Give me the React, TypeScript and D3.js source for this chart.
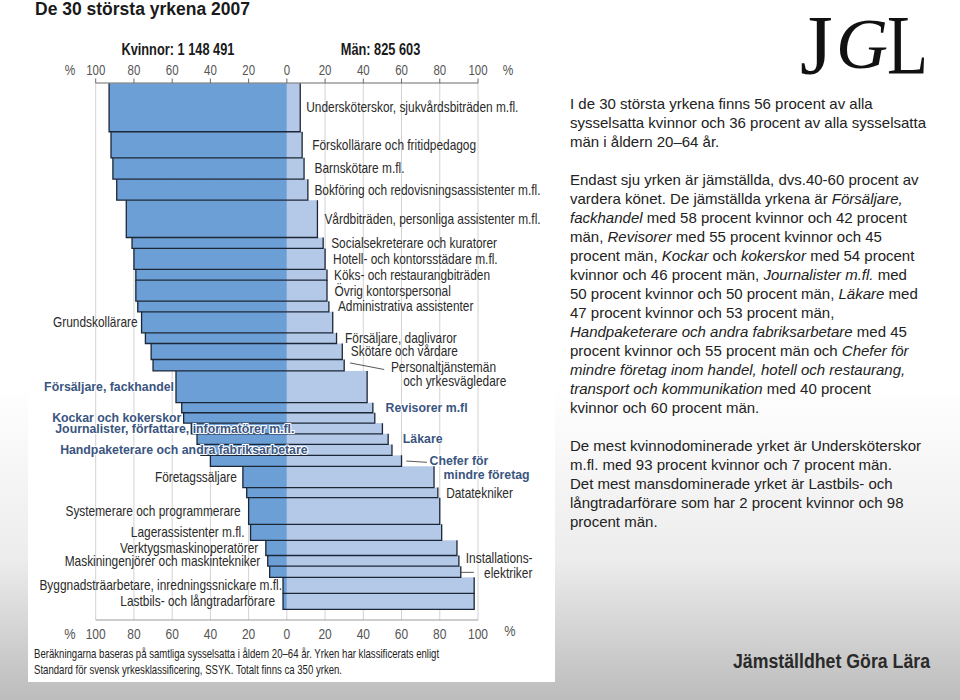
import React from "react";
import * as d3 from "d3";

// ---------- DATA ----------
const occupations = [
  "Undersköterskor, sjukvårdsbiträden m.fl.",
  "Förskollärare och fritidpedagog",
  "Barnskötare m.fl.",
  "Bokföring och redovisningsassistenter m.fl.",
  "Vårdbiträden, personliga assistenter m.fl.",
  "Socialsekreterare och kuratorer",
  "Hotell- och kontorsstädare m.fl.",
  "Köks- och restaurangbiträden",
  "Övrig kontorspersonal",
  "Administrativa assistenter",
  "Grundskollärare",
  "Försäljare, daglivaror",
  "Skötare och vårdare",
  "Personaltjänstemän och yrkesvägledare",
  "Försäljare, fackhandel",
  "Revisorer m.fl",
  "Kockar och kokerskor",
  "Journalister, författare, informatörer m.fl.",
  "Läkare",
  "Handpaketerare och andra fabriksarbetare",
  "Chefer för mindre företag",
  "Företagssäljare",
  "Datatekniker",
  "Systemerare och programmerare",
  "Lagerassistenter m.fl.",
  "Verktygsmaskinoperatörer",
  "Maskiningenjörer och maskintekniker",
  "Installationselektriker",
  "Byggnadsträarbetare, inredningssnickare m.fl.",
  "Lastbils- och långtradarförare",
];
// share of women (%); men = 100 - women
const womenPct = [93, 92, 91, 89, 84, 81, 80, 79, 79, 78, 76, 74, 71, 70, 58, 55, 54, 50, 47, 45, 40, 23, 21, 20, 19, 11, 10, 9, 2, 2];
// number employed (thousands)
const employedK = [182, 98, 80, 79, 140, 41, 79, 40, 79, 40, 79, 40, 60, 43, 119, 38, 39, 40, 40, 41, 41, 80, 38, 100, 60, 57, 40, 42, 60, 60];
const tickValues = [-100, -80, -60, -40, -20, 0, 20, 40, 60, 80, 100];
const totalWomen = "Kvinnor: 1 148 491";
const totalMen = "Män: 825 603";

// ---------- LABEL LAYOUT (annotation placement) ----------
type Line = { t: string; dx: number; dy: number };
type LabelCfg = {
  side: "L" | "R";
  dx: number;
  bold?: boolean;
  anchor?: "start" | "end";
  lines?: Line[];
  leader?: [number, number, number, number];
};
const labelLayout: LabelCfg[] = [
  { side: "R", dx: 6 },
  { side: "R", dx: 10 },
  { side: "R", dx: 10.5 },
  { side: "R", dx: 6.5 },
  { side: "R", dx: 7 },
  { side: "R", dx: 8 },
  { side: "R", dx: 8 },
  { side: "R", dx: 7 },
  { side: "R", dx: 7.5 },
  { side: "R", dx: 9 },
  { side: "L", dx: 4 },
  { side: "R", dx: 8.5 },
  { side: "R", dx: 8.5 },
  { side: "R", dx: 0, lines: [{ t: "Personaltjänstemän", dx: 46.7, dy: 1.7 }, { t: "och yrkesvägledare", dx: 59, dy: 15.7 }], leader: [5.7, -2.3, 40, 4.3] },
  { side: "L", dx: 2, bold: true },
  { side: "R", dx: 12.7, bold: true },
  { side: "L", dx: 2.3, bold: true },
  { side: "L", dx: 136, bold: true, anchor: "start" },
  { side: "R", dx: 14.7, bold: true },
  { side: "L", dx: 140.7, bold: true, anchor: "start" },
  { side: "R", dx: 0, bold: true, lines: [{ t: "Chefer för", dx: 28, dy: 0.2 }, { t: "mindre företag", dx: 42, dy: 13.8 }], leader: [4.7, 0.2, 25.4, 1.5] },
  { side: "L", dx: 6 },
  { side: "R", dx: 8.3 },
  { side: "L", dx: 8 },
  { side: "L", dx: 6 },
  { side: "L", dx: 7.6 },
  { side: "L", dx: 7.4 },
  { side: "R", dx: 0, lines: [{ t: "Installations-", dx: 5, dy: -13.4 }, { t: "elektriker", dx: 23.3, dy: 1.6 }], leader: [-1, 0.6, 13, 0.6] },
  { side: "L", dx: 1 },
  { side: "L", dx: 8 },
];

// ---------- RIGHT TEXT ----------
type Seg = [string, boolean];
const bodyLines: Seg[][] = [
  [["I de 30 största yrkena finns 56 procent av alla", false]],
  [["sysselsatta kvinnor och 36 procent av alla sysselsatta", false]],
  [["män i åldern 20–64 år.", false]],
  [],
  [["Endast sju yrken är jämställda, dvs.40-60 procent av", false]],
  [["vardera könet. De jämställda yrkena är ", false], ["Försäljare,", true]],
  [["fackhandel", true], [" med 58 procent kvinnor och 42 procent", false]],
  [["män, ", false], ["Revisorer", true], [" med 55 procent kvinnor och 45", false]],
  [["procent män, ", false], ["Kockar", true], [" och ", false], ["kokerskor", true], [" med 54 procent", false]],
  [["kvinnor och 46 procent män, ", false], ["Journalister m.fl.", true], [" med", false]],
  [["50 procent kvinnor och 50 procent män, ", false], ["Läkare", true], [" med", false]],
  [["47 procent kvinnor och 53 procent män,", false]],
  [["Handpaketerare och andra fabriksarbetare", true], [" med 45", false]],
  [["procent kvinnor och 55 procent män och ", false], ["Chefer för", true]],
  [["mindre företag inom handel, hotell och restaurang,", true]],
  [["transport och kommunikation", true], [" med 40 procent", false]],
  [["kvinnor och 60 procent män.", false]],
  [],
  [["De mest kvinnodominerade yrket är Undersköterskor", false]],
  [["m.fl. med 93 procent kvinnor och 7 procent män.", false]],
  [["Det mest mansdominerade yrket är Lastbils- och", false]],
  [["långtradarförare som har 2 procent kvinnor och 98", false]],
  [["procent män.", false]],
];

const FONT = "'Liberation Sans', Arial, Helvetica, sans-serif";
const SERIF = "'Liberation Serif', 'Times New Roman', serif";

function T(props: any) {
  const { x, y, sx = 1, children, ...rest } = props;
  return (
    <text transform={`translate(${x},${y}) scale(${sx},1)`} fontFamily={FONT} {...rest}>
      {children}
    </text>
  );
}

export default function App() {
  const W = 960, H = 700;
  const xs = d3.scaleLinear().domain([-100, 100]).range([95.7, 478]);
  const cum = Array.from(d3.cumsum(employedK));
  const total = cum[cum.length - 1];
  const ys = d3.scaleLinear().domain([0, total]).range([83.3, 609.3]);
  const axisTop = 83;
  const axisBottom = 620;

  const rows = occupations.map((name, i) => {
    const w = womenPct[i];
    const y0 = ys(i === 0 ? 0 : cum[i - 1]);
    const y1 = ys(cum[i]);
    return { name, y0, y1, yc: (y0 + y1) / 2, xl: xs(-w), x0: xs(0), xr: xs(100 - w), cfg: labelLayout[i] };
  });

  const WOMEN = "#6c9fd6";
  const MEN = "#b4c8e8";
  const OUT = "#1b2636";
  const BOLDC = "#3a5580";
  const LABC = "#2a2a2a";

  return (
    <svg width={W} height={H} style={{ position: "absolute", left: 0, top: 0 }}>
      <defs>
        <linearGradient id="bg" x1="0" y1="0" x2="0" y2="1">
          <stop offset="0" stopColor="#ffffff" />
          <stop offset="0.55" stopColor="#ffffff" />
          <stop offset="0.8" stopColor="#ececec" />
          <stop offset="1" stopColor="#bcbcbc" />
        </linearGradient>
      </defs>
      <rect x={0} y={0} width={W} height={H} fill="url(#bg)" />
      <rect x={28} y={0} width={527} height={682} fill="#ffffff" />

      {/* Title */}
      <text x={35} y={15} fontFamily={FONT} fontWeight="bold" fontSize={17.5} fill="#1a1a1a">
        De 30 största yrkena 2007
      </text>

      {/* Headers */}
      <T x={xs(-57)} y={54.5} sx={0.8} fontSize={16} fontWeight="bold" textAnchor="middle" fill="#1a1a1a">{totalWomen}</T>
      <T x={xs(49)} y={54.5} sx={0.8} fontSize={16} fontWeight="bold" textAnchor="middle" fill="#1a1a1a">{totalMen}</T>

      {/* Gridlines */}
      {tickValues.map((t) => (
        <line key={"g" + t} x1={xs(t)} x2={xs(t)} y1={axisTop} y2={axisBottom} stroke="#d2d2d2" strokeWidth={1} />
      ))}

      {/* Bars */}
      {rows.map((r, i) => (
        <g key={"b" + i}>
          <rect x={r.xl} y={r.y0} width={r.x0 - r.xl} height={r.y1 - r.y0} fill={WOMEN} />
          <rect x={r.x0} y={r.y0} width={r.xr - r.x0} height={r.y1 - r.y0} fill={MEN} />
        </g>
      ))}
      {rows.map((r, i) => (
        <path key={"o" + i} d={`M${r.xl},${r.y0}V${r.y1}H${r.xr}V${r.y0}`} fill="none" stroke={OUT} strokeWidth={1.3} />
      ))}

      {/* Top axis */}
      <line x1={xs(-100)} x2={xs(100)} y1={axisTop} y2={axisTop} stroke="#6a6a6a" strokeWidth={1} />
      {tickValues.map((t) => (
        <g key={"t" + t}>
          <line x1={xs(t)} x2={xs(t)} y1={axisTop} y2={axisTop - 4.5} stroke="#6a6a6a" strokeWidth={1} />
          <T x={xs(t)} y={75} sx={0.82} fontSize={14} textAnchor="middle" fill="#555">{String(Math.abs(t))}</T>
        </g>
      ))}
      <T x={70} y={75} sx={0.85} fontSize={14} textAnchor="middle" fill="#555">%</T>
      <T x={508} y={75} sx={0.85} fontSize={14} textAnchor="middle" fill="#555">%</T>

      {/* Bottom axis */}
      <line x1={xs(-100)} x2={xs(100)} y1={axisBottom} y2={axisBottom} stroke="#9a9a9a" strokeWidth={1} />
      {tickValues.map((t) => (
        <T key={"bt" + t} x={xs(t)} y={638.5} sx={0.8} fontSize={15} textAnchor="middle" fill="#555">{String(Math.abs(t))}</T>
      ))}
      <T x={70} y={638.5} sx={0.85} fontSize={15} textAnchor="middle" fill="#555">%</T>
      <T x={510} y={636} sx={0.85} fontSize={15} textAnchor="middle" fill="#555">%</T>

      {/* Labels */}
      {rows.map((r, i) => {
        const c = r.cfg;
        const baseX = c.side === "R" ? r.xr : r.xl;
        const style = c.bold
          ? { fontSize: 12.3, fontWeight: "bold" as const, fill: BOLDC, stroke: "#ffffff", strokeWidth: 2, paintOrder: "stroke" as const, sx: 1 }
          : { fontSize: 14, fontWeight: "normal" as const, fill: LABC, sx: 0.85 };
        const { sx, ...st } = style as any;
        if (c.lines) {
          return (
            <g key={"l" + i}>
              {c.leader && (
                <line x1={baseX + c.leader[0]} y1={r.yc + c.leader[1]} x2={baseX + c.leader[2]} y2={r.yc + c.leader[3]} stroke="#444" strokeWidth={0.9} />
              )}
              {c.lines.map((ln, k) => (
                <T key={k} x={baseX + ln.dx} y={r.yc + ln.dy} sx={sx} dy="0.35em" textAnchor="start" {...st}>{ln.t}</T>
              ))}
            </g>
          );
        }
        const anchor = c.anchor ?? (c.side === "R" ? "start" : "end");
        const xPos = c.side === "R" ? baseX + c.dx : baseX - c.dx;
        return (
          <T key={"l" + i} x={xPos} y={r.yc} sx={sx} dy="0.35em" textAnchor={anchor} {...st}>{r.name}</T>
        );
      })}

      {/* Footnote */}
      <T x={34} y={658} sx={0.8} fontSize={12} fill="#222">
        Beräkningarna baseras på samtliga sysselsatta i åldern 20–64 år. Yrken har klassificerats enligt
      </T>
      <T x={34} y={674} sx={0.8} fontSize={12} fill="#222">
        Standard för svensk yrkesklassificering, SSYK. Totalt finns ca 350 yrken.
      </T>

      {/* Right text block */}
      {bodyLines.map((segs, i) => (
        <text key={"bl" + i} x={570} y={103.3 + i * 19.02 + 5.2} fontFamily={FONT} fontSize={15} fill="#222">
          {segs.map((s, k) => (
            <tspan key={k} fontStyle={s[1] ? "italic" : "normal"}>{s[0]}</tspan>
          ))}
        </text>
      ))}

      {/* Logo */}
      <text x={800} y={74} fontFamily={SERIF} fontSize={84} fill="#111">J</text>
      <text x={836} y={68} fontFamily={SERIF} fontStyle="italic" fontSize={72} fill="#111">G</text>
      <T x={887} y={74} sx={0.8} fontSize={84} fill="#111" fontFamily={SERIF}>L</T>

      {/* Footer brand */}
      <text x={733} y={668} fontFamily={FONT} fontWeight="bold" fontSize={20} fill="#2a2a2a" textLength={197} lengthAdjust="spacingAndGlyphs">
        Jämställdhet Göra Lära
      </text>
    </svg>
  );
}
